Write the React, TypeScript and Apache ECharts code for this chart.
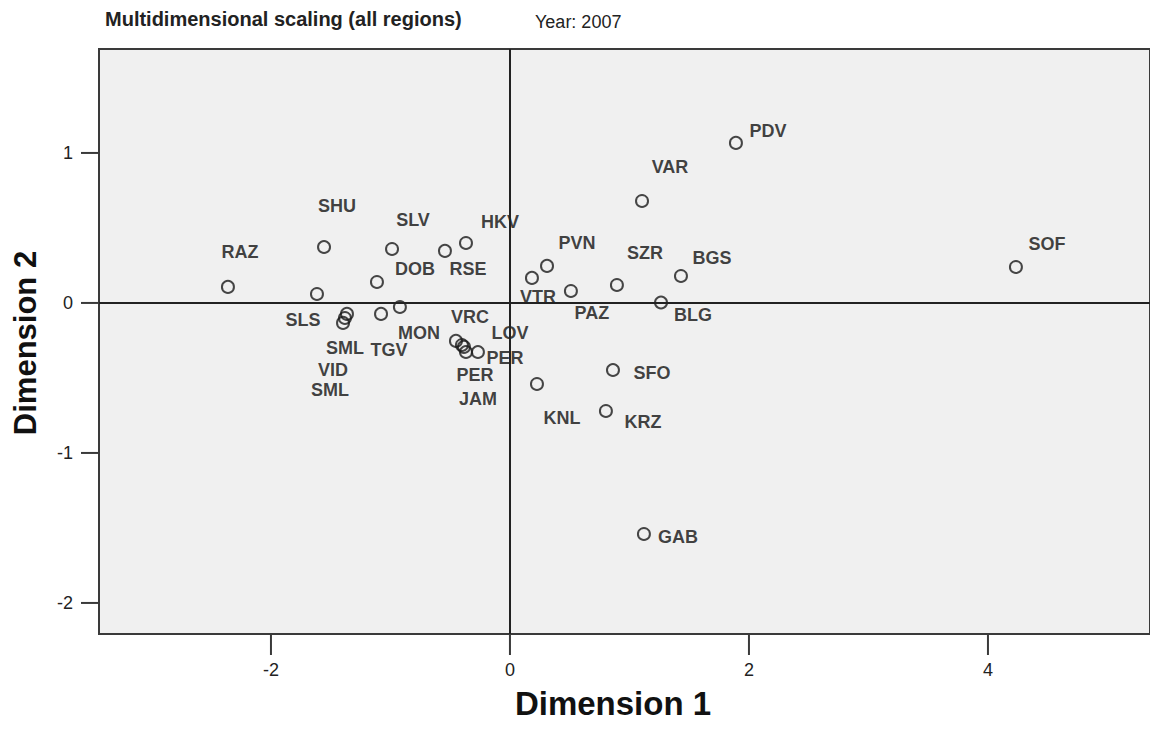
import React, { useEffect, useRef } from "react";
import * as echarts from "echarts";

const names = ["PDV","VAR","SHU","SLV","HKV","RSE","RAZ","DOB","PVN","VTR","SZR","BGS","PAZ","BLG","SOF","SLS","SML","VID","SML","TGV","MON","VRC","LOV","PER","PER","JAM","KNL","SFO","KRZ","GAB"];
const dim1 = [1.891,1.105,-1.556,-0.987,-0.368,-0.544,-2.360,-1.113,0.310,0.184,0.895,1.431,0.510,1.264,4.234,-1.615,-1.364,-1.397,-1.381,-1.079,-0.921,-0.452,-0.385,-0.268,-0.368,-0.402,0.226,0.862,0.803,1.121];
const dim2 = [1.067,0.680,0.373,0.360,0.400,0.347,0.107,0.140,0.247,0.167,0.120,0.180,0.080,0.003,0.240,0.060,-0.073,-0.133,-0.100,-0.073,-0.027,-0.253,-0.293,-0.327,-0.327,-0.280,-0.540,-0.447,-0.720,-1.540];
// label placement (pixel offsets from the marker), style only
const labelOffsets = [[32,-12],[28,-34],[13,-41],[21,-29],[34,-21],[23,18],[12,-35],[38,-13],[30,-23],[6,19],[28,-32],[31,-18],[21,22],[32,12],[31,-23],[-14,26],[-2,34],[-10,47],[-15,72],[8,36],[19,26],[14,-24],[46,-14],[27,6],[9,23],[16,54],[25,34],[39,3],[37,11],[34,3]];
const xTicks = [-2, 0, 2, 4];
const yTicks = [-2, -1, 0, 1];
const xRange = [-3.439, 5.356];
const yRange = [-2.207, 1.693];
const titleText = "Multidimensional scaling (all regions)";
const yearText = "Year: 2007";
const xName = "Dimension 1";
const yName = "Dimension 2";

export default function App() {
  const ref = useRef<HTMLDivElement>(null);
  useEffect(() => {
    if (!ref.current) return;
    const chart = echarts.init(ref.current, undefined, { renderer: "svg" });
    const data = names.map((n, i) => ({
      value: [dim1[i], dim2[i]],
      name: n,
      label: { offset: labelOffsets[i] },
    }));
    const font = "'Liberation Sans', Arial, sans-serif";
    const axisColor = "#3a3a3a";
    chart.setOption({
      animation: false,
      backgroundColor: "#ffffff",
      grid: {
        left: 99,
        top: 49,
        right: 0,
        bottom: 104,
        show: true,
        backgroundColor: "#f0f0f0",
        borderColor: axisColor,
        borderWidth: 2,
      },
      graphic: [
        {
          type: "text",
          left: 105,
          top: 9,
          style: { text: titleText, fontSize: 20, fontWeight: "bold", fontFamily: font, fill: "#222" },
        },
        {
          type: "text",
          left: 535,
          top: 13,
          style: { text: yearText, fontSize: 18, fontFamily: font, fill: "#222" },
        },
        {
          type: "text",
          x: 613,
          y: 703,
          style: {
            text: xName, fontSize: 33, fontWeight: "bold", fontFamily: font, fill: "#111",
            align: "center", verticalAlign: "middle",
          },
        },
        {
          type: "text",
          x: 25,
          y: 343,
          rotation: Math.PI / 2,
          style: {
            text: yName, fontSize: 31, fontWeight: "bold", fontFamily: font, fill: "#111",
            align: "center", verticalAlign: "middle",
          },
        },
      ],
      xAxis: {
        type: "value",
        position: "bottom",
        min: xRange[0],
        max: xRange[1],
        splitLine: { show: false },
        axisLine: { show: true, onZero: false, lineStyle: { color: axisColor, width: 2 } },
        axisTick: { show: false },
        axisLabel: {
          show: true,
          margin: 1,
          customValues: xTicks,
          formatter: (v: number) => `{t|}\n{n|${v}}`,
          rich: {
            t: { width: 2, height: 20, lineHeight: 20, backgroundColor: axisColor, align: "center" },
            n: { fontSize: 18, lineHeight: 30, fontFamily: font, color: "#222", align: "center" },
          },
        },
      },
      yAxis: {
        type: "value",
        position: "left",
        min: yRange[0],
        max: yRange[1],
        splitLine: { show: false },
        axisLine: { show: true, onZero: false, lineStyle: { color: axisColor, width: 2 } },
        axisTick: { show: false },
        axisLabel: {
          show: true,
          margin: 1,
          customValues: yTicks,
          formatter: (v: number) => `{n|${v}}{s|}{t|}`,
          rich: {
            n: { fontSize: 18, lineHeight: 20, fontFamily: font, color: "#222", verticalAlign: "middle" },
            s: { width: 8, height: 2, lineHeight: 20, verticalAlign: "middle" },
            t: { width: 17, height: 2, lineHeight: 20, backgroundColor: axisColor, verticalAlign: "middle" },
          },
        },
      },
      series: [
        {
          type: "scatter",
          data,
          symbol: "circle",
          symbolSize: 12,
          itemStyle: { color: "rgba(0,0,0,0)", borderColor: "#1a1a1a", borderWidth: 2 },
          label: {
            show: true,
            position: "inside",
            formatter: (p: any) => p.name,
            fontSize: 18,
            fontWeight: "bold",
            fontFamily: font,
            color: "#111",
          },
          emphasis: { disabled: true },
          markLine: {
            silent: true,
            symbol: "none",
            label: { show: false },
            lineStyle: { color: "#222", width: 2, type: "solid" },
            data: [{ xAxis: 0 }, { yAxis: 0 }],
          },
          z: 3,
        },
      ],
    });
    return () => chart.dispose();
  }, []);
  return (
    <div
      ref={ref}
      style={{ position: "fixed", left: 0, top: 0, width: 1150, height: 738 }}
    />
  );
}
